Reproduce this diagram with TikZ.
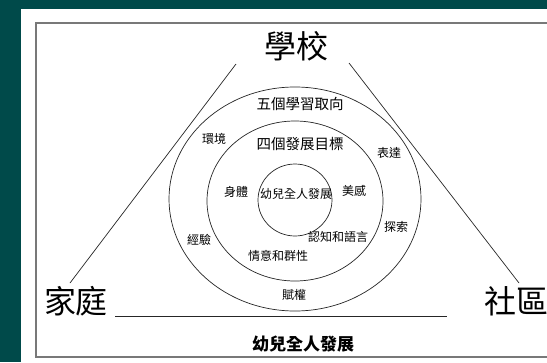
\documentclass[tikz,border=0pt]{standalone}
\usepackage{fontspec}
\setmainfont{Noto Sans CJK TC}
\definecolor{teal0}{RGB}{0,74,74}
\definecolor{framegray}{RGB}{120,120,120}
\begin{document}
\begin{tikzpicture}[x=1pt,y=-1pt,
  lbl/.style={inner sep=0pt, font=\fontsize{12}{14}\selectfont},
  mid/.style={inner sep=0pt, font=\fontsize{14.5}{16}\selectfont},
  big/.style={inner sep=0pt, font=\fontsize{32}{36}\selectfont},
  ring/.style={draw=black!85, line width=0.7pt},
  link/.style={draw=black!85, line width=0.7pt}]
\useasboundingbox (0,0) rectangle (547,362);
\fill[teal0] (0,0) rectangle (547,362);
\fill[white] (21,9) rectangle (547,362);
\draw[framegray, line width=1.3pt] (548,23) -- (36,23) -- (36,357) -- (548,357);
% ellipses
\draw[ring] (295,199) ellipse [x radius=126, y radius=112];
\draw[ring] (295,201) ellipse [x radius=88, y radius=80];
\draw[ring] (295,200) ellipse [x radius=37, y radius=36];
% big labels
\node[big] (school) at (296,46) {學校};
\node[big] (home) at (76,301) {家庭};
\node[big] (comm) at (516,301) {社區};
% connectors
\coordinate (sl) at (236,64);
\coordinate (hl) at (70,283);
\coordinate (sr) at (349,63);
\coordinate (cr) at (519,283);
\coordinate (bl) at (115,316);
\coordinate (br) at (447,316);
\draw[link] (sl) -- (hl);
\draw[link] (sr) -- (cr);
\draw[link] (bl) -- (br);
% ring labels
\node[mid] (five) at (300,104) {五個學習取向};
\node[mid] (four) at (300,144) {四個發展目標};
\node[lbl] (env) at (214,139) {環境};
\node[lbl] (expr) at (389,153) {表達};
\node[lbl] (body) at (236,192) {身體};
\node[lbl] (core) at (296,194) {幼兒全人發展};
\node[lbl] (aes) at (354,191) {美感};
\node[lbl] (exp) at (199,240) {經驗};
\node[lbl] (cog) at (338,237) {認知和語言};
\node[lbl] (expl) at (396,227) {探索};
\node[lbl] (aff) at (278,256) {情意和群性};
\node[lbl] (emp) at (294,295) {賦權};
\node[inner sep=0pt, font=\fontsize{17}{19}\selectfont\bfseries] (title) at (303,344) {幼兒全人發展};
\end{tikzpicture}
\end{document}
